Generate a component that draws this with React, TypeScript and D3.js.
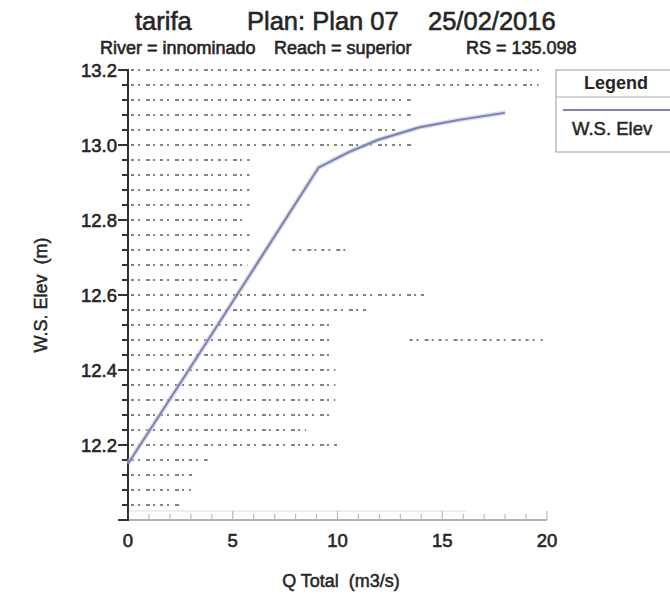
import React from "react";
import * as d3 from "d3";

const flowQ = [0, 2.9, 5.2, 9.1, 10.5, 11.9, 13.9, 15.7, 18.0];
const wsElev = [12.15, 12.4, 12.6, 12.94, 12.98, 13.013, 13.047, 13.066, 13.086];
const xTicks = [0, 5, 10, 15, 20];
const yTicks = [12.2, 12.4, 12.6, 12.8, 13.0, 13.2];
// scanned grid remnants: [level, fromQ, toQ]
const gridRows: [number, number, number][] = [
  [13.2, 0, 19.6], [13.16, 0, 19.6], [13.12, 0, 13.5], [13.08, 0, 13.5],
  [13.04, 0, 12.8], [13.0, 0, 13.6], [12.96, 0, 5.8], [12.92, 0, 5.8],
  [12.88, 0, 5.8], [12.84, 0, 5.8], [12.8, 0, 5.5], [12.76, 0, 5.8],
  [12.72, 0, 5.8], [12.72, 7.7, 10.5], [12.68, 0, 5.7], [12.64, 0, 5.3],
  [12.6, 0, 14.3], [12.56, 0, 11.4], [12.52, 0, 9.6], [12.48, 0, 9.6],
  [12.48, 13.3, 19.8], [12.44, 0, 9.6], [12.4, 0, 9.9], [12.36, 0, 9.9],
  [12.32, 0, 9.9], [12.28, 0, 9.6], [12.24, 0, 8.5], [12.2, 0, 10.0],
  [12.16, 0, 3.8], [12.12, 0, 3.1], [12.08, 0, 3.0], [12.04, 0, 2.5],
];

export default function App() {
  const W = 670, H = 602;
  const x = d3.scaleLinear().domain([0, 20]).range([128, 547]);
  const y = d3.scaleLinear().domain([12.0, 13.2]).range([520, 70]);
  const line = d3.line<number>().x((_, i) => x(flowQ[i])).y((d) => y(d));
  const path = line(wsElev) || "";
  const minorY = d3.range(0, 31).map((i) => 12.0 + i * 0.04);
  const minorX = d3.range(0, 21);
  const font = "'Liberation Sans', Arial, sans-serif";
  const txt = "#262626";
  return (
    <svg width={W} height={H} style={{ position: "absolute", left: 0, top: 0, background: "#fff" }} fontFamily={font}>
      <rect x={0} y={0} width={W} height={H} fill="#fff" />
      {/* titles */}
      <g fill={txt} stroke={txt} strokeWidth={0.6}>
        <text x={135} y={30} fontSize={25.5}>tarifa</text>
        <text x={247} y={30} fontSize={25.5}>Plan: Plan 07</text>
        <text x={428} y={30} fontSize={25.5}>25/02/2016</text>
        <text x={100} y={54} fontSize={18}>River = innominado</text>
        <text x={274} y={54} fontSize={18}>Reach = superior</text>
        <text x={466} y={54} fontSize={18}>RS = 135.098</text>
      </g>
      {/* grid remnants */}
      <g stroke="#333" strokeWidth={1.4} strokeDasharray="3 4 2 6 4 3 2 5" opacity={0.8}>
        {gridRows.map(([lv, a, b], i) => (
          <line key={i} x1={x(a) + 3} x2={x(b)} y1={y(lv)} y2={y(lv)} />
        ))}
      </g>
      {/* bottom axis */}
      <line x1={x(0)} x2={x(20)} y1={y(12.0)} y2={y(12.0)} stroke="#999" strokeWidth={1.6} />
      <line x1={x(0)} x2={x(20) - 80} y1={y(12.0) - 9} y2={y(12.0) - 9} stroke="#ddd" strokeWidth={1} />
      {minorX.map((q) => (
        <line key={q} x1={x(q)} x2={x(q)} y1={y(12.0)} y2={y(12.0) - (q % 5 === 0 ? 9 : 6)} stroke="#bbb" strokeWidth={1.2} />
      ))}
      {/* left axis */}
      <line x1={x(0)} x2={x(0)} y1={y(13.2)} y2={y(12.0)} stroke="#333" strokeWidth={2} />
      {minorY.map((v, i) => (
        <line key={i} x1={x(0) - (i % 5 === 0 ? 10 : 6)} x2={x(0) + 1} y1={y(v)} y2={y(v)} stroke="#333" strokeWidth={2} />
      ))}
      {/* tick labels */}
      <g fill={txt} stroke={txt} strokeWidth={0.6} fontSize={18.5}>
        {yTicks.map((v) => (
          <text key={v} x={x(0) - 11} y={y(v)} dy="0.36em" textAnchor="end">{v.toFixed(1)}</text>
        ))}
        {xTicks.map((q) => (
          <text key={q} x={x(q)} y={547} textAnchor="middle">{q}</text>
        ))}
      </g>
      {/* axis titles */}
      <g fill={txt} stroke={txt} strokeWidth={0.5} fontSize={18}>
        <text x={341} y={587} textAnchor="middle" xmlSpace="preserve">Q Total  (m3/s)</text>
        <text transform={`translate(47,${y(12.6)}) rotate(-90)`} textAnchor="middle" xmlSpace="preserve">W.S. Elev  (m)</text>
      </g>
      {/* curve */}
      <path d={path} fill="none" stroke="#c9cce6" strokeWidth={5} opacity={0.6} />
      <path d={path} fill="none" stroke="#7d84b4" strokeWidth={2.2} />
      {/* legend */}
      <rect x={556} y={70} width={130} height={82} fill="#fff" stroke="#999" strokeWidth={1} />
      <line x1={556} x2={670} y1={97} y2={97} stroke="#aaa" strokeWidth={1} />
      <text x={616} y={89} textAnchor="middle" fontSize={18} fontWeight="bold" fill={txt}>Legend</text>
      <line x1={563} x2={670} y1={110} y2={110} stroke="#7d84b4" strokeWidth={2} />
      <text x={572} y={135} fontSize={18.5} fill={txt} stroke={txt} strokeWidth={0.5}>W.S. Elev</text>
    </svg>
  );
}
